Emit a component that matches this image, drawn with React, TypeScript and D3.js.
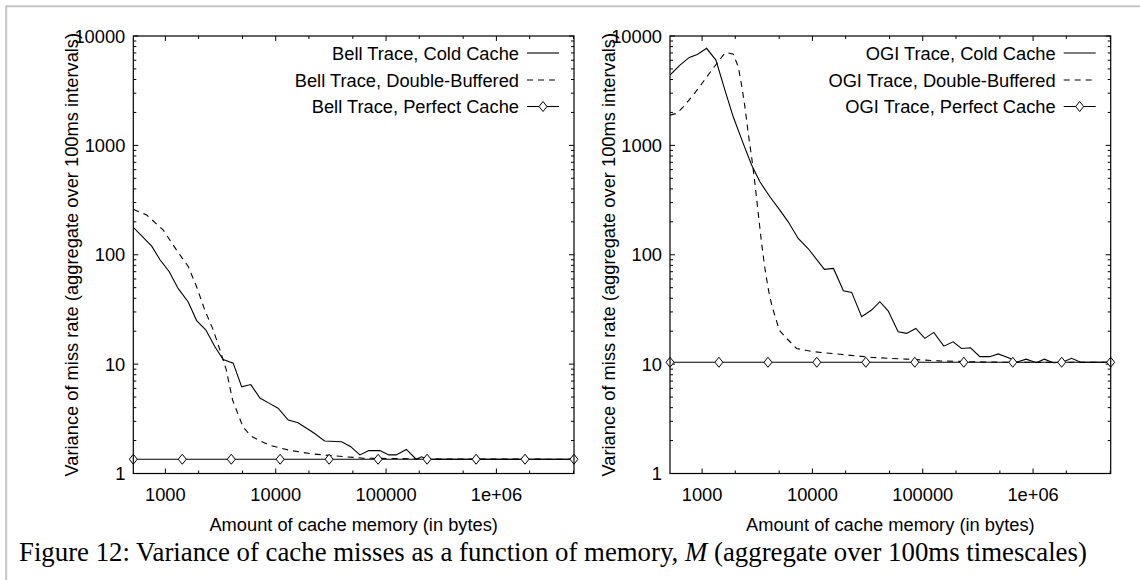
import React from "react";
import * as d3 from "d3";

const W = 1140;
const H = 580;

// ---- axis ticks ----
const xTickValues = [1000, 10000, 100000, 1000000];
const xTickLabels = ["1000", "10000", "100000", "1e+06"];
const yTickValues = [1, 10, 100, 1000, 10000];
const yTickLabels = ["1", "10", "100", "1000", "10000"];
const xDomain: [number, number] = [512, 5050000];
const yDomain: [number, number] = [1, 10000];

// ---- data: [cache memory (bytes), variance] ----
const bellCold: [number, number][] = [
  [512, 178], [752, 120], [894, 90], [1084, 70], [1309, 49], [1611, 37], [1919, 25],
  [2329, 20.5], [2811, 14.4], [3343, 11], [4117, 10.2], [4916, 6.2], [5943, 6.5],
  [7194, 4.9], [8674, 4.4], [10500, 3.95], [12990, 3.08], [15930, 2.91], [22380, 2.33],
  [27710, 1.98], [39600, 1.95], [47870, 1.76], [57860, 1.48], [69800, 1.62], [87900, 1.62],
  [105900, 1.48], [123600, 1.48], [152700, 1.66], [187700, 1.35], [210000, 1.42],
  [234000, 1.35], [5050000, 1.35],
];
const bellDouble: [number, number][] = [
  [512, 260], [677, 231], [957, 168], [1265, 110], [1611, 78], [1919, 51], [2281, 31],
  [2716, 20.5], [3121, 13.5], [3550, 9.0], [4064, 4.7], [5035, 2.68], [5943, 2.2],
  [8674, 1.82], [13700, 1.62], [21580, 1.51], [33970, 1.45], [62370, 1.38],
  [234000, 1.36], [5050000, 1.35],
];
const bellPerfectMem = [512, 1422, 3954, 10960, 30480, 84720, 235500, 654600, 1816000, 5047000];
const bellPerfectVar = [1.35, 1.35, 1.35, 1.35, 1.35, 1.35, 1.35, 1.35, 1.35, 1.35];

const ogiCold: [number, number][] = [
  [512, 4395], [630, 5420], [766, 6370], [904, 6790], [1099, 7710], [1335, 6025],
  [1611, 3200], [1915, 1825], [2358, 1042], [2811, 661], [3343, 465], [4117, 339],
  [5070, 256], [6036, 200], [7433, 141], [9141, 114], [12830, 73.6], [15520, 75],
  [19090, 46.9], [22700, 45.3], [27920, 27.1], [34370, 31.2], [40850, 37.2], [48560, 30.7],
  [59820, 19.8], [71290, 19.1], [86500, 21.2], [104400, 17.2], [125900, 19.5],
  [155200, 14.6], [188400, 16.0], [224500, 13.9], [271000, 14.1], [328900, 11.7],
  [405300, 11.7], [481900, 12.4], [615200, 11.3], [704700, 10.4], [865800, 11.1],
  [1069000, 10.3], [1262000, 11.1], [1527000, 10.3], [1847000, 10.4], [2233000, 11.3],
  [2700000, 10.4], [5050000, 10.4],
];
const ogiDouble: [number, number][] = [
  [512, 1890], [589, 1960], [675, 2250], [832, 2885], [1025, 3815], [1222, 4875],
  [1556, 6690], [1645, 7080], [1915, 6830], [2128, 5230], [2281, 3557], [2445, 2250],
  [2620, 1288], [2811, 787], [3012, 450], [3228, 239], [3465, 127], [3710, 75],
  [3991, 48], [4295, 34], [4667, 26], [5000, 20.5], [5834, 17.2], [7194, 13.9],
  [10170, 13.0], [17740, 12.3], [35530, 11.5], [71290, 11.1], [142800, 10.7],
  [285900, 10.5], [574100, 10.4], [5050000, 10.4],
];
const ogiPerfectMem = [512, 1422, 3954, 10960, 30480, 84720, 235500, 654600, 1816000, 5047000];
const ogiPerfectVar = [10.4, 10.4, 10.4, 10.4, 10.4, 10.4, 10.4, 10.4, 10.4, 10.4];

const bellLegend = ["Bell Trace, Cold Cache", "Bell Trace, Double-Buffered", "Bell Trace, Perfect Cache"];
const ogiLegend = ["OGI Trace, Cold Cache", "OGI Trace, Double-Buffered", "OGI Trace, Perfect Cache"];

const yAxisTitle = "Variance of miss rate (aggregate over 100ms intervals)";
const xAxisTitle = "Amount of cache memory (in bytes)";

const SANS = "'Liberation Sans', Arial, Helvetica, sans-serif";
const SERIF = "'Liberation Serif', 'Times New Roman', serif";
const FS = 18.3;
const DASH = "6,5";

const TOP = 36;
const BOTTOM = 473.5;

type PanelProps = {
  id: string;
  x0: number;
  x1: number;
  cold: [number, number][];
  dbl: [number, number][];
  perfMem: number[];
  perfVar: number[];
  legend: string[];
};

const diamond = "M0,-5L4,0L0,5L-4,0Z";

function Panel({ id, x0, x1, cold, dbl, perfMem, perfVar, legend }: PanelProps) {
  const xs = d3.scaleLog().domain(xDomain).range([x0, x1]);
  const ys = d3.scaleLog().domain(yDomain).range([BOTTOM, TOP]);
  const line = d3
    .line<[number, number]>()
    .x((d) => xs(d[0]))
    .y((d) => ys(d[1]));
  const perf: [number, number][] = perfMem.map((m, i) => [m, perfVar[i]]);

  const xMinor = xs
    .ticks()
    .filter((t) => {
      const m = Math.round(t / Math.pow(10, Math.floor(Math.log10(t) + 1e-9)));
      return m === 2 || m === 5;
    })
    .filter((t) => t > xDomain[0] && t <= xDomain[1]);
  const yMinor = ys.ticks().filter((t) => !yTickValues.includes(t));

  const MAJ = 5;
  const MIN = 3;
  const legendY = [53, 80, 106.5];
  const lx0 = x1 - 47;
  const lx1 = x1 - 15;
  const ltx = x1 - 55;

  return (
    <g>
      <defs>
        <clipPath id={`clip-${id}`}>
          <rect x={x0} y={TOP} width={x1 - x0} height={BOTTOM - TOP} />
        </clipPath>
      </defs>
      {/* ticks */}
      <g stroke="#000" strokeWidth={1}>
        {xTickValues.map((t) => (
          <g key={`xM${t}`}>
            <line x1={xs(t)} x2={xs(t)} y1={BOTTOM} y2={BOTTOM - MAJ} />
            <line x1={xs(t)} x2={xs(t)} y1={TOP} y2={TOP + MAJ} />
          </g>
        ))}
        {xMinor.map((t) => (
          <g key={`xm${t}`}>
            <line x1={xs(t)} x2={xs(t)} y1={BOTTOM} y2={BOTTOM - MIN} />
            <line x1={xs(t)} x2={xs(t)} y1={TOP} y2={TOP + MIN} />
          </g>
        ))}
        {yTickValues.map((t) => (
          <g key={`yM${t}`}>
            <line x1={x0} x2={x0 + MAJ} y1={ys(t)} y2={ys(t)} />
            <line x1={x1} x2={x1 - MAJ} y1={ys(t)} y2={ys(t)} />
          </g>
        ))}
        {yMinor.map((t) => (
          <g key={`ym${t}`}>
            <line x1={x0} x2={x0 + MIN} y1={ys(t)} y2={ys(t)} />
            <line x1={x1} x2={x1 - MIN} y1={ys(t)} y2={ys(t)} />
          </g>
        ))}
      </g>
      {/* tick labels */}
      <g fontFamily={SANS} fontSize={FS} fill="#000">
        {xTickValues.map((t, i) => (
          <text key={`xl${t}`} x={xs(t)} y={500.5} textAnchor="middle">
            {xTickLabels[i]}
          </text>
        ))}
        {yTickValues.map((t, i) => (
          <text key={`yl${t}`} x={x0 - 8} y={ys(t)} dy="0.36em" textAnchor="end">
            {yTickLabels[i]}
          </text>
        ))}
        <text x={(x0 + x1) / 2} y={531} textAnchor="middle">
          {xAxisTitle}
        </text>
        <text
          transform={`translate(${x0 - 55},${(TOP + BOTTOM) / 2}) rotate(-90)`}
          textAnchor="middle"
        >
          {yAxisTitle}
        </text>
      </g>
      {/* curves */}
      <g clipPath={`url(#clip-${id})`} fill="none" stroke="#000" strokeWidth={1.1}>
        <path d={line(cold) || ""} />
        <path d={line(dbl) || ""} strokeDasharray={DASH} />
        <path d={line(perf) || ""} />
      </g>
      {perf.map((d, i) => (
        <path
          key={`d${i}`}
          d={diamond}
          transform={`translate(${xs(d[0])},${ys(d[1])})`}
          fill="#fff"
          stroke="#000"
          strokeWidth={1}
        />
      ))}
      {/* frame */}
      <rect x={x0} y={TOP} width={x1 - x0} height={BOTTOM - TOP} fill="none" stroke="#000" strokeWidth={1.2} />
      {/* legend */}
      <g fontFamily={SANS} fontSize={FS} fill="#000">
        {legend.map((t, i) => (
          <text key={`lg${i}`} x={ltx} y={legendY[i]} dy="0.36em" textAnchor="end">
            {t}
          </text>
        ))}
      </g>
      <g stroke="#000" strokeWidth={1.1} fill="none">
        <line x1={lx0} x2={lx1} y1={legendY[0]} y2={legendY[0]} />
        <line x1={lx0} x2={lx1} y1={legendY[1]} y2={legendY[1]} strokeDasharray={DASH} />
        <line x1={lx0} x2={lx1} y1={legendY[2]} y2={legendY[2]} />
      </g>
      <path
        d={diamond}
        transform={`translate(${(lx0 + lx1) / 2},${legendY[2]})`}
        fill="#fff"
        stroke="#000"
        strokeWidth={1}
      />
    </g>
  );
}

export default function App() {
  return (
    <svg
      width={W}
      height={H}
      viewBox={`0 0 ${W} ${H}`}
      style={{ position: "absolute", left: 0, top: 0, display: "block", background: "#fff" }}
    >
      <rect x={0} y={0} width={W} height={H} fill="#fff" />
      <line x1={6} x2={W} y1={6.2} y2={6.2} stroke="#c4c4c4" strokeWidth={2} />
      <line x1={6.2} x2={6.2} y1={5.2} y2={H} stroke="#c4c4c4" strokeWidth={2} />
      <Panel
        id="bell"
        x0={133.3}
        x1={574}
        cold={bellCold}
        dbl={bellDouble}
        perfMem={bellPerfectMem}
        perfVar={bellPerfectVar}
        legend={bellLegend}
      />
      <Panel
        id="ogi"
        x0={670}
        x1={1110.7}
        cold={ogiCold}
        dbl={ogiDouble}
        perfMem={ogiPerfectMem}
        perfVar={ogiPerfectVar}
        legend={ogiLegend}
      />
      <text x={19} y={561} fontFamily={SERIF} fontSize={26.8} fill="#000">
        Figure 12: Variance of cache misses as a function of memory,{" "}
        <tspan fontStyle="italic">M</tspan> (aggregate over 100ms timescales)
      </text>
    </svg>
  );
}
